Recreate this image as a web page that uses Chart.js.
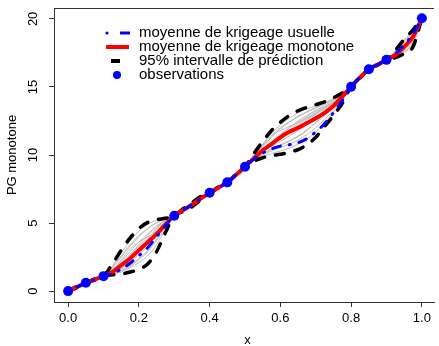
<!DOCTYPE html>
<html>
<head>
<meta charset="utf-8">
<script src="https://cdn.jsdelivr.net/npm/chart.js@4.4.1/dist/chart.umd.min.js"></script>
<style>
html, body { margin: 0; padding: 0; background: #fff; overflow: hidden; }
#wrap { width: 439px; height: 346px; }
</style>
</head>
<body>
<div id="wrap"><canvas id="krigChart" width="439" height="346"></canvas></div>
<script>
// grid of x positions (step 0.025)
const xGrid = [0, 0.025, 0.05, 0.075, 0.1, 0.125, 0.15, 0.175, 0.2, 0.225, 0.25, 0.275, 0.3,
    0.325, 0.35, 0.375, 0.4, 0.425, 0.45, 0.475, 0.5, 0.525, 0.55, 0.575, 0.6, 0.625, 0.65,
    0.675, 0.7, 0.725, 0.75, 0.775, 0.8, 0.825, 0.85, 0.875, 0.9, 0.925, 0.95, 0.975, 1.0];

// observations
const obsX = [0, 0.05, 0.1, 0.3, 0.4, 0.45, 0.5, 0.8, 0.85, 0.9, 1.0];
const obsY = [0, 0.61, 1.1, 5.54, 7.23, 7.99, 9.14, 15.02, 16.3, 16.99, 20.05];

// moyenne de krigeage monotone (red)
const meanMono = [0, 0.3, 0.6, 0.85, 1.1, 1.4, 1.9, 2.4, 3.0, 3.6, 4.2, 4.9, 5.54,
    5.95, 6.35, 6.8, 7.23, 7.6, 8.0, 8.55, 9.14, 9.75, 10.35, 10.8, 11.3, 11.7, 12.0,
    12.35, 12.7, 13.1, 13.6, 14.3, 15.02, 15.7, 16.3, 16.65, 16.99, 17.35, 17.95, 18.7, 20.05];

// moyenne de krigeage usuelle (blue)
const meanUsual = [0, 0.3, 0.6, 0.85, 1.1, 1.3, 1.6, 2.05, 2.6, 3.2, 4.0, 4.8, 5.54,
    5.95, 6.35, 6.8, 7.23, 7.6, 8.0, 8.55, 9.14, 9.7, 10.15, 10.45, 10.65, 10.75, 10.9,
    11.2, 11.7, 12.3, 13.1, 14.0, 15.02, 15.7, 16.3, 16.65, 16.99, 17.45, 18.1, 18.9, 20.05];

// 95% prediction interval
const upperBound = [0, 0.35, 0.6, 0.9, 1.1, 2.0, 3.0, 3.9, 4.6, 5.05, 5.25, 5.35, 5.54,
    6.05, 6.5, 6.95, 7.23, 7.65, 8.0, 8.6, 9.14, 10.1, 11.0, 11.8, 12.4, 12.9, 13.25,
    13.5, 13.7, 13.9, 14.2, 14.55, 15.02, 15.75, 16.3, 16.7, 16.99, 17.7, 18.5, 19.2, 20.05];
const lowerBound = [0, 0.25, 0.6, 0.8, 1.1, 1.2, 1.25, 1.4, 1.6, 2.0, 2.9, 4.3, 5.54,
    5.85, 6.2, 6.7, 7.23, 7.55, 8.0, 8.5, 9.14, 9.55, 9.8, 9.95, 10.05, 10.2, 10.4,
    10.75, 11.3, 12.1, 12.9, 13.8, 15.02, 15.65, 16.3, 16.6, 16.99, 17.15, 17.45, 17.95, 20.05];

// simulated monotone paths (grey)
const simPaths = [
    [0, 0.3, 0.6, 0.85, 1.1, 1.85, 2.8, 3.7, 4.4, 4.9, 5.2, 5.35, 5.54, 6.05, 6.5, 6.95, 7.23, 7.6, 8.0, 8.55, 9.14,
     10.0, 10.8, 11.6, 12.2, 12.7, 13.1, 13.4, 13.6, 13.85, 14.15, 14.5, 15.02, 15.75, 16.3, 16.7, 16.99, 17.65, 18.45, 19.15, 20.05],
    [0, 0.3, 0.6, 0.85, 1.1, 1.7, 2.5, 3.3, 4.0, 4.6, 5.0, 5.3, 5.54, 6.0, 6.45, 6.9, 7.23, 7.6, 8.0, 8.55, 9.14,
     9.9, 10.6, 11.3, 11.9, 12.4, 12.8, 13.15, 13.45, 13.75, 14.1, 14.5, 15.02, 15.72, 16.3, 16.68, 16.99, 17.55, 18.3, 19.0, 20.05],
    [0, 0.3, 0.6, 0.85, 1.1, 1.6, 2.2, 2.9, 3.6, 4.2, 4.8, 5.2, 5.54, 5.95, 6.4, 6.85, 7.23, 7.6, 8.0, 8.55, 9.14,
     9.85, 10.45, 11.0, 11.5, 12.0, 12.5, 12.9, 13.3, 13.65, 14.0, 14.45, 15.02, 15.7, 16.3, 16.66, 16.99, 17.5, 18.15, 18.85, 20.05],
    [0, 0.3, 0.6, 0.85, 1.1, 1.5, 2.0, 2.6, 3.3, 3.9, 4.5, 5.1, 5.54, 5.9, 6.3, 6.8, 7.23, 7.6, 8.0, 8.55, 9.14,
     9.8, 10.35, 10.8, 11.25, 11.7, 12.15, 12.6, 13.0, 13.45, 13.9, 14.4, 15.02, 15.68, 16.3, 16.64, 16.99, 17.4, 18.0, 18.7, 20.05],
    [0, 0.3, 0.6, 0.85, 1.1, 1.45, 1.9, 2.4, 3.0, 3.6, 4.3, 5.0, 5.54, 5.9, 6.3, 6.75, 7.23, 7.6, 8.0, 8.55, 9.14,
     9.75, 10.25, 10.65, 11.0, 11.4, 11.8, 12.25, 12.7, 13.2, 13.7, 14.3, 15.02, 15.7, 16.3, 16.65, 16.99, 17.35, 17.9, 18.55, 20.05],
    [0, 0.3, 0.6, 0.85, 1.1, 1.35, 1.7, 2.1, 2.7, 3.3, 4.0, 4.85, 5.54, 5.85, 6.25, 6.75, 7.23, 7.6, 8.0, 8.55, 9.14,
     9.7, 10.1, 10.45, 10.75, 11.05, 11.4, 11.85, 12.35, 12.9, 13.5, 14.2, 15.02, 15.66, 16.3, 16.62, 16.99, 17.3, 17.8, 18.4, 20.05],
    [0, 0.3, 0.6, 0.85, 1.1, 1.3, 1.55, 1.9, 2.4, 3.0, 3.7, 4.7, 5.54, 5.85, 6.2, 6.7, 7.23, 7.6, 8.0, 8.55, 9.14,
     9.65, 10.0, 10.3, 10.55, 10.8, 11.1, 11.5, 12.0, 12.6, 13.3, 14.1, 15.02, 15.65, 16.3, 16.6, 16.99, 17.25, 17.65, 18.25, 20.05],
    [0, 0.3, 0.6, 0.85, 1.1, 1.25, 1.4, 1.7, 2.1, 2.6, 3.4, 4.55, 5.54, 5.95, 6.35, 6.8, 7.23, 7.6, 8.0, 8.55, 9.14,
     9.6, 9.9, 10.1, 10.3, 10.5, 10.8, 11.15, 11.7, 12.4, 13.15, 14.0, 15.02, 15.7, 16.3, 16.65, 16.99, 17.2, 17.55, 18.1, 20.05],
    [0, 0.3, 0.6, 0.85, 1.1, 1.5, 2.3, 3.1, 3.6, 4.0, 4.4, 5.0, 5.54, 6.0, 6.4, 6.85, 7.23, 7.6, 8.0, 8.55, 9.14,
     9.9, 10.7, 11.4, 11.8, 12.1, 12.4, 12.7, 13.0, 13.4, 13.85, 14.4, 15.02, 15.72, 16.3, 16.68, 16.99, 17.6, 18.2, 18.8, 20.05],
    [0, 0.3, 0.6, 0.85, 1.1, 1.3, 1.6, 2.2, 3.0, 3.8, 4.6, 5.2, 5.54, 5.9, 6.3, 6.8, 7.23, 7.6, 8.0, 8.55, 9.14,
     9.7, 10.2, 10.7, 11.2, 11.8, 12.3, 12.7, 13.1, 13.5, 13.9, 14.4, 15.02, 15.7, 16.3, 16.65, 16.99, 17.3, 17.85, 18.6, 20.05],
    [0, 0.3, 0.6, 0.85, 1.1, 1.75, 2.6, 3.4, 4.1, 4.6, 5.05, 5.3, 5.54, 6.0, 6.45, 6.9, 7.23, 7.6, 8.0, 8.55, 9.14,
     9.95, 10.75, 11.45, 12.0, 12.45, 12.85, 13.2, 13.5, 13.8, 14.1, 14.5, 15.02, 15.72, 16.3, 16.68, 16.99, 17.6, 18.35, 19.05, 20.05],
    [0, 0.3, 0.6, 0.85, 1.1, 1.4, 1.8, 2.3, 2.9, 3.5, 4.2, 5.0, 5.54, 5.9, 6.3, 6.75, 7.23, 7.6, 8.0, 8.55, 9.14,
     9.75, 10.3, 10.9, 11.5, 12.0, 12.4, 12.8, 13.2, 13.55, 13.9, 14.4, 15.02, 15.7, 16.3, 16.65, 16.99, 17.45, 18.05, 18.65, 20.05],
    [0, 0.3, 0.6, 0.85, 1.1, 1.55, 2.1, 2.7, 3.4, 4.1, 4.7, 5.2, 5.54, 5.95, 6.4, 6.85, 7.23, 7.6, 8.0, 8.55, 9.14,
     9.8, 10.4, 10.9, 11.3, 11.6, 11.95, 12.35, 12.8, 13.3, 13.8, 14.35, 15.02, 15.7, 16.3, 16.65, 16.99, 17.3, 17.75, 18.35, 20.05],
    [0, 0.3, 0.6, 0.85, 1.1, 1.3, 1.5, 1.8, 2.3, 2.9, 3.8, 4.9, 5.54, 5.85, 6.25, 6.7, 7.23, 7.6, 8.0, 8.55, 9.14,
     9.65, 10.05, 10.4, 10.7, 11.0, 11.35, 11.8, 12.4, 13.05, 13.7, 14.3, 15.02, 15.68, 16.3, 16.64, 16.99, 17.2, 17.6, 18.2, 20.05]
];

const xTicks = [0, 0.2, 0.4, 0.6, 0.8, 1.0];
const yTicks = [0, 5, 10, 15, 20];

const legendLabels = ['moyenne de krigeage usuelle', 'moyenne de krigeage monotone',
    '95% intervalle de prédiction', 'observations'];

const FONT = "'Liberation Sans', Arial, Helvetica, sans-serif";
const toXY = ys => xGrid.map((x, i) => ({ x: x, y: ys[i] }));

const lineBase = {
    pointRadius: 0,
    fill: false,
    cubicInterpolationMode: 'monotone'
};

const datasets = [];
datasets.push({
    ...lineBase,
    data: obsX.map((x, i) => ({ x: x, y: obsY[i] })),
    showLine: false,
    pointRadius: 5,
    pointBackgroundColor: '#0000FF',
    pointBorderWidth: 0,
    order: 0
});
datasets.push({
    ...lineBase,
    data: toXY(meanUsual),
    borderColor: '#0000FF',
    borderWidth: 3,
    borderDash: [1, 9, 8, 9],
    borderCapStyle: 'round',
    order: 1
});
datasets.push({
    ...lineBase,
    data: toXY(meanMono),
    borderColor: '#FF0000',
    borderWidth: 4,
    order: 2
});
[upperBound, lowerBound].forEach(b => datasets.push({
    ...lineBase,
    data: toXY(b),
    borderColor: '#000000',
    borderWidth: 3.5,
    borderDash: [9, 11],
    borderCapStyle: 'round',
    order: 3
}));
simPaths.forEach(p => datasets.push({
    ...lineBase,
    data: toXY(p),
    borderColor: 'rgb(188,188,188)',
    borderWidth: 1,
    order: 4
}));

// texts and frame drawn like R's base graphics
const decorPlugin = {
    id: 'decor',
    afterDraw(chart) {
        const ctx = chart.ctx;
        const area = chart.chartArea;
        const ys = chart.scales.y;
        ctx.save();
        ctx.strokeStyle = '#333';
        ctx.lineWidth = 1;
        ctx.beginPath();
        ctx.moveTo(area.left, area.top + 0.5);
        ctx.lineTo(area.right, area.top + 0.5);
        ctx.stroke();

        ctx.fillStyle = '#000';
        ctx.font = '13px ' + FONT;
        ctx.textAlign = 'center';
        ctx.textBaseline = 'middle';
        yTicks.forEach(v => {
            ctx.save();
            ctx.translate(33, ys.getPixelForValue(v));
            ctx.rotate(-Math.PI / 2);
            ctx.fillText(String(v), 0, 0);
            ctx.restore();
        });
        ctx.save();
        ctx.translate(12, (area.top + area.bottom) / 2);
        ctx.rotate(-Math.PI / 2);
        ctx.fillText('PG monotone', 0, 0);
        ctx.restore();
        ctx.fillText('x', 247.5, 340);

        // legend
        const rows = [33, 47, 61, 75];
        ctx.textAlign = 'left';
        ctx.font = '15px ' + FONT;
        legendLabels.forEach((t, i) => ctx.fillText(t, 139, rows[i]));
        ctx.lineCap = 'butt';
        ctx.fillStyle = '#0000FF';
        ctx.beginPath();
        ctx.arc(107, rows[0], 1.6, 0, Math.PI * 2);
        ctx.fill();
        ctx.strokeStyle = '#0000FF';
        ctx.lineWidth = 3;
        ctx.beginPath();
        ctx.moveTo(120, rows[0]);
        ctx.lineTo(130, rows[0]);
        ctx.stroke();
        ctx.strokeStyle = '#FF0000';
        ctx.lineWidth = 4;
        ctx.beginPath();
        ctx.moveTo(106, rows[1]);
        ctx.lineTo(129, rows[1]);
        ctx.stroke();
        ctx.strokeStyle = '#000';
        ctx.beginPath();
        ctx.moveTo(111, rows[2]);
        ctx.lineTo(120, rows[2]);
        ctx.stroke();
        ctx.beginPath();
        ctx.arc(117, rows[3], 4, 0, Math.PI * 2);
        ctx.fill();
        ctx.restore();
    }
};

new Chart(document.getElementById('krigChart').getContext('2d'), {
    type: 'line',
    data: { datasets: datasets },
    options: {
        responsive: false,
        animation: false,
        layout: { padding: { top: 8, left: 0, right: 0, bottom: 0 } },
        plugins: { legend: { display: false }, tooltip: { enabled: false } },
        scales: {
            x: {
                type: 'linear',
                min: -0.04,
                max: 1.0343,
                afterBuildTicks: s => { s.ticks = xTicks.map(v => ({ value: v })); },
                afterFit: s => { s.height = 44; },
                ticks: {
                    color: '#000',
                    font: { family: FONT, size: 13 },
                    padding: 4,
                    maxRotation: 0,
                    autoSkip: false,
                    callback: v => v.toFixed(1)
                },
                grid: { drawOnChartArea: false, drawTicks: true, tickLength: 5, color: '#333' },
                border: { color: '#333' }
            },
            y: {
                type: 'linear',
                min: -0.8,
                max: 20.8,
                afterBuildTicks: s => { s.ticks = yTicks.map(v => ({ value: v })); },
                afterFit: s => { s.width = 54; },
                ticks: { display: false },
                grid: { drawOnChartArea: false, drawTicks: true, tickLength: 5, color: '#333' },
                border: { color: '#333' }
            }
        }
    },
    plugins: [decorPlugin]
});
</script>
</body>
</html>
